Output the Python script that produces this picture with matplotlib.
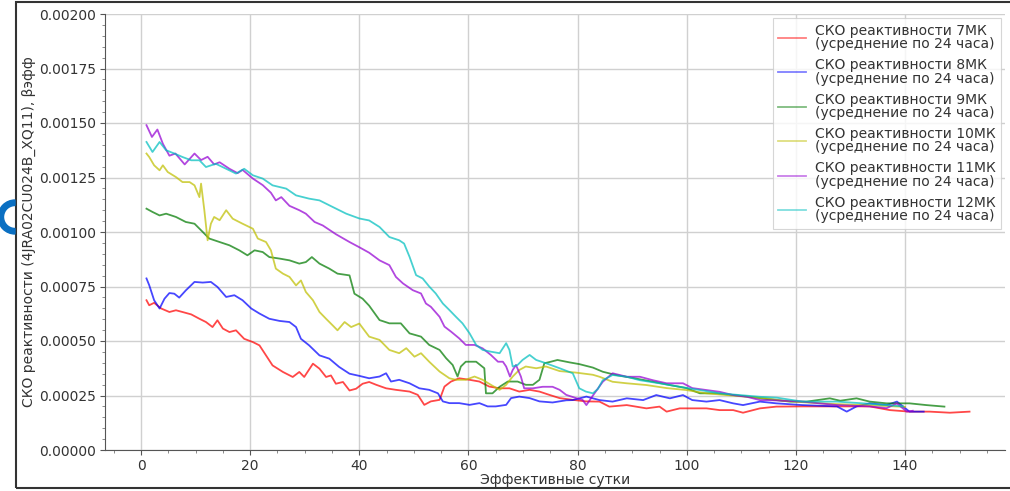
import matplotlib
matplotlib.use("Agg")
import matplotlib.pyplot as plt
from matplotlib.ticker import MultipleLocator, AutoMinorLocator, FormatStrFormatter
from matplotlib.patches import Wedge, Rectangle
from matplotlib.transforms import IdentityTransform

# ---- data ----
x7 = [1, 1.5, 2.4, 3.7, 5.2, 6.4, 7.6, 9.2, 10.7, 11.9, 13.1, 14, 15, 16.2, 17.4, 18.9, 20.5, 21.7, 22.9, 24.1,
      26, 27.8, 29, 29.9, 31.5, 32.7, 33.9, 34.8, 35.7, 37, 38.2, 39.4, 40.6, 41.8, 43.1, 44.9, 46.7, 49.2, 50.7,
      51.9, 53.1, 54.7, 55.6, 56.8, 58.3, 60.2, 62, 63.8, 65.7, 67.5, 69.3, 71.2, 73, 74.8, 76.7, 79.1, 81.5, 84,
      85.8, 89, 92.6, 95, 96.3, 98.7, 101, 103.6, 106, 108.5, 110.3, 113.4, 116.4, 121.2, 127.5, 133.5, 137.2,
      140.8, 144.5, 148.2, 151.8]
y7 = [0.000687, 0.000664, 0.000675, 0.000649, 0.000633, 0.000641, 0.000633, 0.000622, 0.000602, 0.000587,
      0.000564, 0.000595, 0.000557, 0.000541, 0.000549, 0.00051, 0.000495, 0.00048, 0.000434, 0.000388,
      0.000358, 0.000335, 0.000358, 0.000335, 0.000396, 0.000373, 0.000335, 0.000342, 0.000304, 0.000312,
      0.000273, 0.000281, 0.000304, 0.000312, 0.000299, 0.000283, 0.000276, 0.000268, 0.000253, 0.000207,
      0.000223, 0.00023, 0.000291, 0.000314, 0.000329, 0.000322, 0.000314, 0.000291, 0.000283, 0.000283,
      0.000268, 0.000276, 0.000268, 0.000253, 0.000238, 0.00023, 0.000223, 0.000222, 0.000199, 0.000206,
      0.000191, 0.000199, 0.000176, 0.000191, 0.000191, 0.000191, 0.000183, 0.000183, 0.000171, 0.000191,
      0.000199, 0.0002, 0.0002, 0.0002, 0.000183, 0.000176, 0.000176, 0.000171, 0.000176]

x8 = [1, 1.5, 2.4, 3.4, 4.3, 5.2, 6.1, 7, 8.2, 9.8, 11.3, 12.8, 14, 15.6, 17.1, 18.6, 20.2, 21.7, 23.5, 25.4,
      27.2, 28.4, 29.3, 30.8, 32.7, 34.5, 36.3, 38.2, 40, 41.8, 43.7, 44.9, 45.8, 47.3, 49.2, 51, 52.8, 54.4,
      55.3, 56.5, 58.3, 60.2, 62, 63.5, 65, 66.9, 67.8, 69.3, 71.2, 73, 75.4, 77.9, 79.1, 81.6, 84, 86.4, 89,
      92, 94.4, 96.9, 99.3, 101, 103.6, 106, 108.5, 110.3, 113.4, 116.4, 121.2, 127.5, 129.3, 131.1, 133.5,
      136.6, 138.5, 140.8, 143.4]
y8 = [0.000787, 0.000756, 0.000687, 0.000649, 0.000694, 0.00072, 0.000717, 0.000699, 0.000732, 0.000771,
      0.000768, 0.000771, 0.000748, 0.000702, 0.00071, 0.000687, 0.000649, 0.000626, 0.000602, 0.000592,
      0.000587, 0.000564, 0.00051, 0.00048, 0.000434, 0.000419, 0.000381, 0.00035, 0.00034, 0.000329,
      0.000337, 0.000352, 0.000314, 0.000322, 0.000306, 0.000283, 0.000276, 0.00026, 0.000223, 0.000215,
      0.000215, 0.000207, 0.000215, 0.0002, 0.0002, 0.000207, 0.000238, 0.000245, 0.000238, 0.000223,
      0.000218, 0.000228, 0.000229, 0.000245, 0.000229, 0.000222, 0.000237, 0.000229, 0.000252, 0.000237,
      0.000252, 0.000229, 0.000222, 0.000229, 0.000214, 0.000206, 0.000222, 0.000214, 0.000206, 0.0002,
      0.000176, 0.0002, 0.000214, 0.000206, 0.000222, 0.000176, 0.000176]

x9 = [1, 2.1, 3.4, 4.6, 6.4, 8.2, 9.8, 11, 12.5, 14.4, 16.2, 18, 19.5, 20.8, 22.3, 23.5, 25.4, 27.2, 29, 30.2,
      31.3, 32.7, 34.5, 36, 38.2, 39.1, 40.6, 41.8, 43.7, 45.5, 47.6, 49.2, 51.3, 52.8, 54.7, 55.9, 57.1, 58,
      58.6, 59.5, 61.4, 62.9, 63.2, 64.4, 65.7, 67.2, 69, 70.5, 71.8, 73, 73.9, 75.1, 76.3, 78.5, 80.3, 82.8,
      84.6, 87, 90.2, 93.8, 96.9, 99.9, 102.4, 105.4, 108.5, 111.6, 114.6, 118.9, 122, 126.2, 128.1, 131.1,
      133.5, 136.6, 140.8, 143.9, 147.2]
y9 = [0.001107, 0.001092, 0.001076, 0.001084, 0.001069, 0.001046, 0.001038, 0.001008, 0.00097, 0.000954,
      0.000939, 0.000916, 0.000893, 0.000916, 0.000908, 0.000885, 0.000878, 0.00087, 0.000855, 0.000862,
      0.000885, 0.000855, 0.000832, 0.000809, 0.000801, 0.000717, 0.000694, 0.000662, 0.000596, 0.000581,
      0.000581, 0.000535, 0.00052, 0.000482, 0.000459, 0.000421, 0.00039, 0.000337, 0.000383, 0.000405,
      0.000405, 0.000375, 0.00026, 0.00026, 0.00029, 0.000314, 0.000314, 0.000299, 0.000299, 0.000322,
      0.000398, 0.000405, 0.000413, 0.000402, 0.000394, 0.000378, 0.000359, 0.000344, 0.00033, 0.000313,
      0.000298, 0.000284, 0.00026, 0.00026, 0.000252, 0.000244, 0.000234, 0.000222, 0.000222, 0.000237,
      0.000226, 0.000237, 0.000222, 0.000214, 0.000214, 0.000206, 0.000199]

x10 = [1, 1.5, 2.4, 3.4, 4, 4.9, 6.4, 7.6, 8.9, 9.8, 10.7, 11, 11.6, 12.2, 12.8, 13.4, 14.4, 15.6, 16.8, 18.6,
       20.5, 21.4, 22.9, 23.8, 24.7, 26, 27.2, 28.4, 29.3, 30.2, 31.5, 32.7, 33.9, 35.1, 36, 37.3, 38.5, 40,
       41.8, 43.7, 45.5, 47.3, 48.6, 50.1, 51.3, 52.8, 54.7, 56.5, 57.7, 59.5, 61.1, 62.6, 64.1, 65.7, 66.9,
       68.1, 69.3, 70.5, 72.4, 74.2, 76.7, 79.7, 82.8, 84, 86.4, 89, 92.6, 96.3, 99.9, 103.6, 107.3, 111,
       114.6, 118, 122, 126, 130, 134, 138, 140]
y10 = [0.00136, 0.001344, 0.001306, 0.001283, 0.001306, 0.001275, 0.001252, 0.001229, 0.001229, 0.001214,
       0.00116, 0.001222, 0.0011, 0.000962, 0.001038, 0.001069, 0.001054, 0.0011, 0.001061, 0.001038,
       0.001015, 0.00097, 0.000954, 0.000916, 0.000832, 0.000809, 0.000794, 0.000755, 0.000778, 0.000725,
       0.000687, 0.000633, 0.000602, 0.000572, 0.000549, 0.000587, 0.000564, 0.00058, 0.00052, 0.000505,
       0.000459, 0.000444, 0.000467, 0.000428, 0.000444, 0.000405, 0.00036, 0.000329, 0.000322, 0.000322,
       0.000337, 0.000322, 0.000299, 0.000276, 0.000299, 0.000337, 0.000367, 0.000383, 0.000375, 0.000383,
       0.000362, 0.000355, 0.000345, 0.000336, 0.000313, 0.000306, 0.000298, 0.000284, 0.000275, 0.00026,
       0.000252, 0.000244, 0.000237, 0.000225, 0.000218, 0.000212, 0.000208, 0.000205, 0.0002, 0.000198]

x11 = [1, 2, 3, 4, 5.2, 6.3, 8, 9.8, 11, 12.2, 13.4, 14.4, 16.2, 17.7, 18.6, 20.5, 22.3, 23.8, 24.7, 25.7,
       27.2, 29, 30.2, 31.8, 33.3, 35.7, 38.2, 40, 41.8, 43.7, 45.5, 46.7, 48, 49.8, 51.3, 52.2, 53.1, 54.7,
       55.6, 56.8, 58.3, 59.5, 61.1, 62.6, 64.1, 65.4, 66.3, 66.9, 67.6, 68.1, 68.7, 69.6, 70.2, 71.8, 73.6,
       75.4, 76.7, 77.9, 79.7, 80.9, 81.6, 82.8, 84.6, 86.4, 89, 91.4, 93.8, 96.3, 99.3, 101, 103.6, 106,
       108.5, 111, 113.4, 115.8, 121.2, 127.5, 133.5, 136.6, 138.5, 140.3, 141.4]
y11 = [0.00149, 0.001436, 0.00147, 0.001405, 0.00135, 0.00136, 0.00131, 0.00136, 0.00133, 0.001345, 0.00131,
       0.00132, 0.00129, 0.00127, 0.001285, 0.001245, 0.001215, 0.00118, 0.001145, 0.00116, 0.00112, 0.0011,
       0.001084, 0.001046, 0.00103, 0.00099, 0.000954, 0.00093, 0.000905, 0.00087, 0.000848, 0.000794,
       0.000764, 0.000733, 0.000718, 0.000672, 0.000657, 0.000611, 0.000566, 0.000543, 0.000512, 0.000482,
       0.000482, 0.000466, 0.000436, 0.000405, 0.000405, 0.000383, 0.000337, 0.000367, 0.00039, 0.000337,
       0.000283, 0.000283, 0.00029, 0.00029, 0.000276, 0.000253, 0.000238, 0.00023, 0.000206, 0.00025,
       0.000313, 0.000352, 0.000336, 0.000336, 0.00032, 0.000306, 0.000306, 0.000284, 0.000275, 0.000267,
       0.000252, 0.000244, 0.000229, 0.000228, 0.000222, 0.000206, 0.0002, 0.000192, 0.000214, 0.000176,
       0.00018]

x12 = [1, 2.1, 3.4, 4.6, 6.1, 7.6, 9.2, 10.7, 11.9, 13.7, 15.6, 17.4, 18.9, 20.5, 22.3, 24.1, 26.6, 28.4,
       30.8, 32.7, 35.1, 37.6, 40, 41.8, 43.7, 45.5, 47.3, 48.2, 49.2, 50.4, 51.6, 52.8, 54, 55.3, 56.5, 57.7,
       58.9, 60.2, 61.4, 62.6, 64.1, 65.7, 66.9, 67.5, 68.1, 69, 69.9, 71.2, 72.4, 74.2, 76.7, 79.1, 80.3,
       81.5, 82.8, 83.7, 84.6, 86.4, 89, 91.4, 95, 98.7, 102.4, 106, 109.7, 113.4, 116.5, 121.2, 127.5,
       132.3, 136.6, 139.6]
y12 = [0.001413, 0.001367, 0.001413, 0.001375, 0.00136, 0.001344, 0.001329, 0.001329, 0.001298, 0.001313,
       0.00129, 0.001268, 0.00129, 0.00126, 0.001245, 0.001214, 0.001199, 0.001168, 0.001153, 0.001145,
       0.001115, 0.001084, 0.001062, 0.001053, 0.001023, 0.000977, 0.000962, 0.000947, 0.000886, 0.000802,
       0.000787, 0.00075, 0.000718, 0.000672, 0.000642, 0.000611, 0.000581, 0.000535, 0.000482, 0.000459,
       0.000451, 0.000444, 0.00049, 0.000459, 0.000383, 0.00039, 0.000413, 0.000436, 0.000413, 0.000398,
       0.000375, 0.000352, 0.000283, 0.000268, 0.00026, 0.00028, 0.00032, 0.000344, 0.000336, 0.00032,
       0.000306, 0.00029, 0.000275, 0.00026, 0.000252, 0.000244, 0.00024, 0.000222, 0.000222, 0.000214,
       0.000206, 0.0002]

series_names = ["7МК", "8МК", "9МК", "10МК", "11МК", "12МК"]
series_x = [x7, x8, x9, x10, x11, x12]
series_y = [y7, y8, y9, y10, y11, y12]
colors = ["#ff0000", "#0000ff", "#007a00", "#bfbf00", "#9400d3", "#00bfbf"]

y_label = "СКО реактивности (4JRA02CU024B_XQ11), βэфф"
x_label = "Эффективные сутки"
legend_tmpl = "СКО реактивности {}\n(усреднение по 24 часа)"

# ---- figure ----
fig = plt.figure(figsize=(10.10, 4.91), dpi=100)
ax = fig.add_axes([105 / 1010, 41 / 491, 900 / 1010, 436 / 491])

for name, xs, ys, c in zip(series_names, series_x, series_y, colors):
    ax.plot(xs, ys, color=c, alpha=0.72, lw=1.3, label=legend_tmpl.format(name))

ax.set_ylim(0, 0.002)
ax.set_xlim(-6.6, 158.3)
ax.yaxis.set_major_locator(MultipleLocator(0.00025))
ax.yaxis.set_major_formatter(FormatStrFormatter("%.5f"))
ax.yaxis.set_minor_locator(AutoMinorLocator(5))
ax.xaxis.set_major_locator(MultipleLocator(20))
ax.xaxis.set_minor_locator(AutoMinorLocator(4))
ax.grid(True, which="major", color="#d0d0d0", lw=1.0)
ax.set_axisbelow(True)
for s in ("top", "right"):
    ax.spines[s].set_visible(False)
for s in ("left", "bottom"):
    ax.spines[s].set_color("#555555")
ax.tick_params(which="major", length=3.5, pad=3, color="#555555", labelsize=10, labelcolor="#333333")
ax.tick_params(which="minor", length=2, color="#777777")
ax.set_xlabel(x_label, fontsize=10, color="#333333", labelpad=0)
ax.set_ylabel(y_label, fontsize=10, color="#333333", labelpad=2)

leg = ax.legend(loc="upper right", fontsize=10, frameon=True, fancybox=False,
                edgecolor="#cccccc", handlelength=2.0, handletextpad=0.6,
                labelspacing=0.5, borderaxespad=0.3)
leg.get_frame().set_linewidth(0.8)
for t in leg.get_texts():
    t.set_linespacing(0.95)
    t.set_color("#333333")
for h in leg.get_lines():
    h.set_alpha(0.5)

# screenshot frame and artifact
fig.add_artist(Rectangle((16, 3), 1100, 486, transform=IdentityTransform(), fill=False,
                         edgecolor="#333333", lw=1.5))
fig.add_artist(Wedge((15, 274), 17, 90, 270, width=5.5, transform=IdentityTransform(),
                     color="#0a6fc2"))

fig.savefig("out.png", dpi=100)
